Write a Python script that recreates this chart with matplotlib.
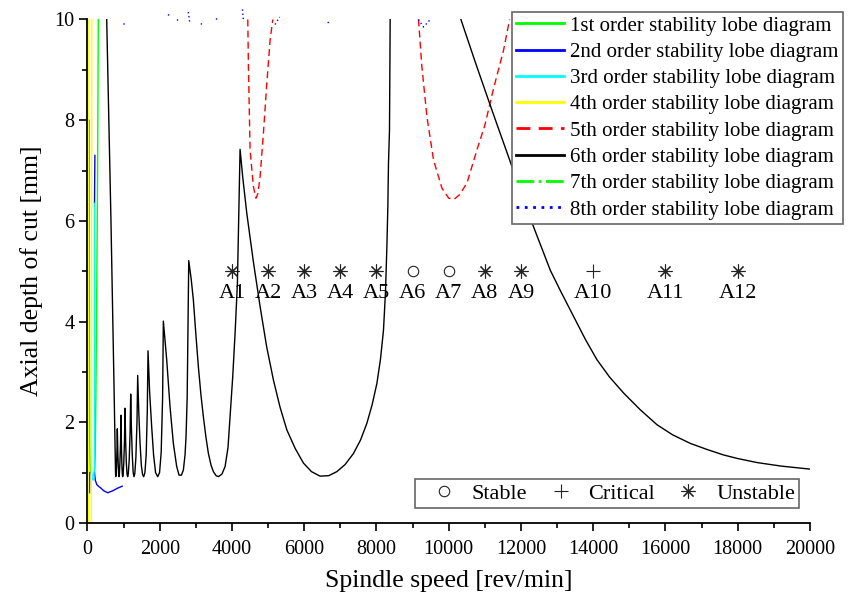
import numpy as np
import matplotlib
matplotlib.use("Agg")
import matplotlib.pyplot as plt
from matplotlib.lines import Line2D

plt.rcParams['font.family'] = ['Liberation Serif', 'DejaVu Serif']

nan = np.nan

# 1st order lobe (green)
rpm1 = [50, 52, 56, 62, 75, nan, 300, 280, 255, 232, 215, 205, 190, 160]
dep1 = [8.0, 5.5, 3.0, 1.6, 1.0, nan, 10.0, 7.0, 4.5, 2.5, 1.4, 1.1, 0.98, 0.95]

# 2nd order lobe (blue)
rpm2 = [205, 200, 195, nan, 55, 58, 62, nan, 195, 215, 260, 320, 360, 450, 560, 700, 830, 960]
dep2 = [7.3, 6.9, 6.35, nan, 0.6, 0.8, 1.0, nan, 1.0, 0.85, 0.76, 0.72, 0.70, 0.64, 0.60, 0.64, 0.69, 0.73]

# 3rd order lobe (cyan)
rpm3 = [200, 198, 195, 190, 175, 150, 130, 120]
dep3 = [6.35, 4.0, 2.0, 1.1, 0.88, 0.85, 0.9, 1.0]

# 4th order lobe (yellow)
rpm4 = [20, 22, 26, 45, 75, 105, 115, 120]
dep4 = [10.0, 5.0, 0.0, -0.6, -0.7, -0.3, 4.0, 10.0]

# 5th order lobe (red dashed)
rpm5 = [4437, 4455, 4501, 4593, 4665, 4720, 4778, 4870, 4964, 5055, 5130, nan,
        9163, 9257, 9396, 9579, 9812, 10000, 10150, 10300, 10504, 10781, 11000, 11241, 11518, 11684]
dep5 = [10.0, 9.06, 7.41, 6.68, 6.45, 6.55, 6.88, 7.74, 8.73, 9.59, 10.0, nan,
        10.0, 9.06, 8.07, 7.21, 6.65, 6.45, 6.43, 6.52, 6.75, 7.41, 7.9, 8.63, 9.39, 10.0]

# 6th order lobe (black)
rpm6 = [532, 650, 740, 765, 775, 781, 790, 805, 818, 826,
        840, 855, 866, 873, 882, 898, 915, 928,
        940, 955, 967, 975, 987, 1005, 1025, 1039,
        1055, 1075, 1095, 1113, 1130, 1155, 1180, 1196,
        1215, 1240, 1265, 1288, 1310, 1340, 1370, 1390,
        1420, 1454, 1490, 1525, 1556, 1590, 1625, 1655, 1676,
        1720, 1778, 1830, 1885, 1944, 1995, 2040, 2080, 2100,
        2193, 2285, 2377, 2470, 2535, 2600, 2654, 2700, 2728, 2760, 2775, 2803,
        2870, 2931, 3000, 3070, 3140, 3208, 3280, 3347, 3420, 3485, 3560, 3623,
        3720, 3809, 3890, 3947, 4020, 4086, 4150, 4196, 4224,
        4300, 4410, 4590, 4778, 4960, 5147, 5330, 5518, 5750, 5978, 6200, 6440, 6680,
        6903, 7130, 7363, 7560, 7734, 7880, 8011, 8110, 8194, 8250, 8288, 8315, 8332, 8360, 8379,
        nan, 10337, 10760, 11196, 11750, 12349, 12811, 13100, 13457, 13780, 14105, 14450,
        14842, 15300, 15767, 16200, 16689, 17150, 17612, 18000, 18536, 19200, 20000]
dep6 = [10.0, 6.0, 2.5, 1.4, 1.05, 0.92, 0.95, 1.15, 1.5, 1.87,
        1.4, 1.08, 0.94, 0.92, 0.96, 1.2, 1.6, 2.14,
        1.5, 1.1, 0.95, 0.92, 0.97, 1.2, 1.65, 2.28,
        1.65, 1.2, 0.97, 0.92, 0.98, 1.25, 1.8, 2.56,
        1.9, 1.35, 1.0, 0.92, 0.98, 1.3, 2.0, 2.93,
        2.2, 1.6, 1.15, 0.96, 0.92, 1.0, 1.35, 2.2, 3.42,
        2.6, 1.9, 1.35, 1.0, 0.92, 1.0, 1.4, 2.5, 4.01,
        3.24, 2.31, 1.58, 1.12, 0.95, 0.95, 1.05, 1.35, 1.71, 2.5, 3.43, 5.21,
        4.85, 4.43, 3.75, 3.10, 2.55, 2.11, 1.7, 1.38, 1.15, 1.02, 0.94, 0.92,
        0.97, 1.12, 1.5, 2.11, 2.9, 3.77, 4.76, 6.48, 7.42,
        6.85, 6.15, 5.2, 4.30, 3.5, 2.84, 2.3, 1.85, 1.48, 1.19, 1.02, 0.93, 0.94,
        1.02, 1.16, 1.38, 1.65, 1.98, 2.35, 2.77, 3.25, 3.83, 4.6, 5.49, 6.3, 7.14, 7.80, 10.0,
        nan, 10.0, 9.1, 8.2, 7.08, 5.88, 5.02, 4.6, 4.10, 3.65, 3.24, 2.9,
        2.58, 2.25, 1.95, 1.75, 1.58, 1.46, 1.35, 1.28, 1.20, 1.13, 1.07]

# 7th order lobe (green dash-dot) - not visible inside the window
rpm7 = []
dep7 = []

# 8th order lobe (blue dotted) - fragments at the top edge
rpm8 = [1000, 1060, nan, 2230, 2300, nan, 2480, 2540, nan, 2790, 2830, nan, 3140, 3190, nan,
        3560, 3620, nan, 4290, 4320, nan, 5190, 5320, nan, 6650, 6720, nan, 9160, 9300, 9490]
dep8 = [9.9, 9.95, nan, 10.1, 10.05, nan, 10.0, 9.95, nan, 10.15, 9.95, nan, 9.9, 9.95, nan,
        10.0, 10.05, nan, 10.2, 9.95, nan, 9.9, 10.05, nan, 9.95, 9.9, nan, 10.0, 9.85, 10.0]

# test points
pt_rpm = [4000, 5000, 6000, 7000, 8000, 9000, 10000, 11000, 12000, 14000, 16000, 18000]
pt_dep = [5, 5, 5, 5, 5, 5, 5, 5, 5, 5, 5, 5]
pt_state = ['U', 'U', 'U', 'U', 'U', 'S', 'S', 'U', 'U', 'C', 'U', 'U']
pt_names = ['A1', 'A2', 'A3', 'A4', 'A5', 'A6', 'A7', 'A8', 'A9', 'A10', 'A11', 'A12']

labels = ['1st order stability lobe diagram', '2nd order stability lobe diagram',
          '3rd order stability lobe diagram', '4th order stability lobe diagram',
          '5th order stability lobe diagram', '6th order stability lobe diagram',
          '7th order stability lobe diagram', '8th order stability lobe diagram']

fig = plt.figure(figsize=(8.51, 6.03), dpi=100)
ax = fig.add_axes([0.1028, 0.1327, 0.849, 0.835])

lw = 1.0
l1, = ax.plot(rpm1, dep1, color='#00ff00', lw=lw)
l2, = ax.plot(rpm2, dep2, color='#0000ff', lw=lw)
l3, = ax.plot(rpm3, dep3, color='#00ffff', lw=lw)
l4, = ax.plot(rpm4, dep4, color='#ffff00', lw=1.0)
l5, = ax.plot(rpm5, dep5, color='#ff0000', lw=lw, ls=(0, (5, 3)))
l6, = ax.plot(rpm6, dep6, color='black', lw=lw)
l7, = ax.plot(rpm7, dep7, color='#00ff00', lw=lw, ls='-.')
l8, = ax.plot(rpm8, dep8, color='#0000ff', lw=lw, ls=(0, (1, 2)), clip_on=False)

mk = {'S': 'o', 'C': '+', 'U': (8, 2, 0)}
for x, y, s, name in zip(pt_rpm, pt_dep, pt_state, pt_names):
    if s == 'S':
        ax.plot(x, y, marker='o', ms=7.5, mfc='none', mec='#222222', mew=0.8, ls='none')
    else:
        ax.plot(x, y, marker=mk[s], ms=10, mec='#222222', mew=0.8, ls='none')
    ax.text(x, y - 0.45, name, ha='center', va='center', fontsize=16)

ax.set_xlim(0, 20000)
ax.set_ylim(0, 10)
ax.set_xticks(np.arange(0, 20001, 2000))
ax.set_xticks(np.arange(0, 20001, 1000), minor=True)
ax.set_yticks(np.arange(0, 11, 2))
ax.set_yticks(np.arange(0, 11, 1), minor=True)
ax.tick_params(which='both', direction='out', labelsize=14.5, width=1.2)
ax.tick_params(which='major', length=6)
ax.tick_params(which='minor', length=3.5)
ax.tick_params(axis='x', which='major', pad=6)
for s in ['top', 'right']:
    ax.spines[s].set_visible(False)
for s in ['left', 'bottom']:
    ax.spines[s].set_linewidth(1.3)
ax.set_xlabel('Spindle speed [rev/min]', fontsize=18.5, labelpad=8)
ax.set_ylabel('Axial depth of cut [mm]', fontsize=18.5, labelpad=8)

leg1 = ax.legend([l1, l2, l3, l4, l5, l6, l7, l8], labels, loc='upper right',
                 bbox_to_anchor=(843 / 851, 1 - 12 / 603), bbox_transform=fig.transFigure,
                 fontsize=15, fancybox=False, framealpha=1, edgecolor='#666666',
                 handlelength=2.3, handletextpad=0.3, labelspacing=0.32, borderpad=0.2,
                 borderaxespad=0)
leg1.get_frame().set_linewidth(1.2)
for ln in leg1.get_lines():
    ln.set_linewidth(2.0)
ax.add_artist(leg1)

h_s = Line2D([], [], marker='o', ms=7.5, mfc='none', mec='#222222', mew=0.8, ls='none')
h_c = Line2D([], [], marker='+', ms=10, mec='#222222', mew=0.8, ls='none')
h_u = Line2D([], [], marker=(8, 2, 0), ms=10, mec='#222222', mew=0.8, ls='none')
leg2 = ax.legend([h_s, h_c, h_u], ['Stable', 'Critical', 'Unstable'], loc='lower left',
                 bbox_to_anchor=(415 / 851, 1 - 508 / 603), bbox_transform=fig.transFigure,
                 ncol=3, fontsize=16, fancybox=False, framealpha=1, edgecolor='#666666',
                 handlelength=2.2, handletextpad=0.15, columnspacing=0.4, borderpad=0.2,
                 borderaxespad=0)
leg2.get_frame().set_linewidth(1.2)

fig.savefig('out.png', dpi=100)
